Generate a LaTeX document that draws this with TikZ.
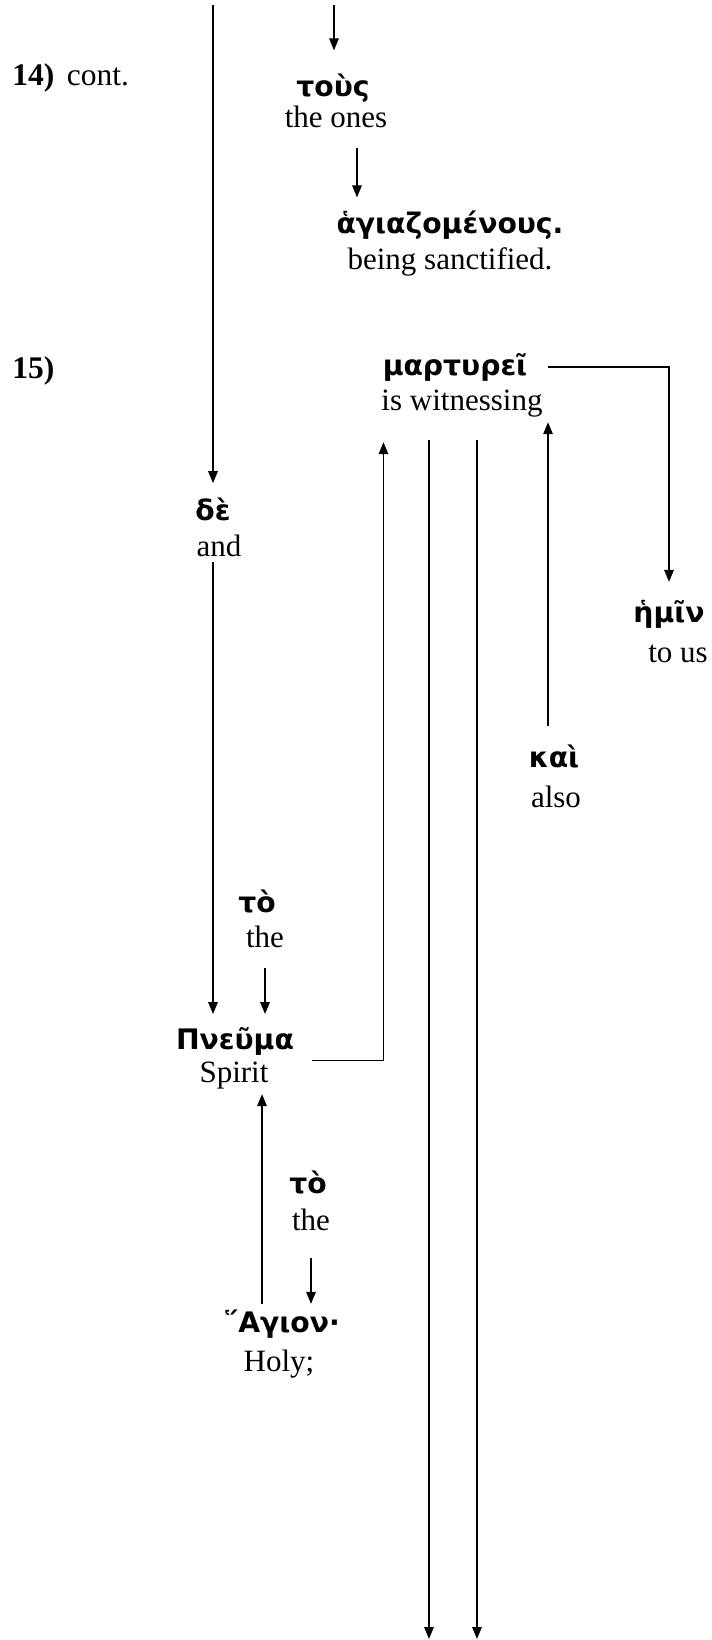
\documentclass[tikz,border=0pt]{standalone}
\usepackage{fontspec}
\setmainfont{Liberation Serif}
\newfontfamily\grk{DejaVu Sans}
\usetikzlibrary{arrows.meta,shapes}
\tikzstyle{greek}=[anchor=base,inner sep=2pt,font=\grk\bfseries\fontsize{11.3}{13}\selectfont]
\tikzstyle{gloss}=[anchor=base,inner sep=2pt,font=\fontsize{12.4}{15}\selectfont]
\tikzstyle{verse}=[anchor=base west,inner sep=0pt,font=\fontsize{12.6}{15}\selectfont]
\tikzstyle{edge} = [draw,line width=0.6pt,-{Triangle[length=4.8pt,width=3.8pt]}]

\begin{document}
\begin{tikzpicture}[x=0.4pt,y=-0.4pt]
    \useasboundingbox (0,0) rectangle (712,1640);

    \node[verse] (v14) at (12,85) {\textbf{14)}\hspace{5pt}cont.};
    \node[verse] (v15) at (12,378) {\textbf{15)}};

     \foreach \x/\y/\name/\word in {333/96/tous/τοὺς, 450/233/hagiaz/ἁγιαζομένους., 455/375/mart/μαρτυρεῖ, 213/520/de/δὲ, 669/622/hemin/ἡμῖν, 554/767/kai/καὶ, 257/912/toA/τὸ, 235/1049/pneuma/Πνεῦμα, 308/1193/toB/τὸ, 282/1332/hagion/῞Αγιον·}
        \node[greek] (\name) at (\x,\y) {\word};

     \foreach \x/\y/\name/\word in {336/127/gOnes/the ones, 450/269/gSanct/being sanctified., 462/410/gWit/is witnessing, 219/556/gAnd/and, 678/662/gUs/to us, 556/807/gAlso/also, 265/947/gTheA/the, 234/1082/gSpirit/Spirit, 311/1230/gTheB/the, 279/1371/gHoly/Holy;}
        \node[gloss] (\name) at (\x,\y) {\word};

    \coordinate (top1) at (213,5);
    \coordinate (top2) at (334,5);
    \coordinate (endA) at (429,1639);
    \coordinate (endB) at (477,1639);

    \path[edge, shorten >=3.5pt] (top1) -- (de.north);
    \path[edge, shorten >=7pt] (top2) -- (tous.north -| top2);
    \path[edge, shorten <=6pt, shorten >=3pt] (gOnes.south -| 357,0) -- (hagiaz.north -| 357,0);

    \path[edge, shorten >=5pt] (mart.east -| gWit.south east) -| (hemin.north);
    \path[edge, shorten <=5pt] (kai.north -| gWit.south east) -- (gWit.south east);

    \path[edge, shorten >=3pt] (gAnd.south -| de.south) -- (pneuma.north -| de.south);
    \path[edge, shorten <=6pt, shorten >=3pt] (gTheA.south) -- (pneuma.north -| gTheA.south);
    \path[edge] ([xshift=5pt]pneuma.south east) -| ([shift={(3pt,-8pt)}]gWit.south west);

    \path[edge, shorten <=9pt] (gTheB.south) -- (hagion.north -| gTheB.south);
    \path[edge] (hagion.north -| 262,0) -- (gSpirit.south -| 262,0);

    \path[edge, shorten <=7pt] (gWit.south -| endA) -- (endA);
    \path[edge, shorten <=7pt] (gWit.south -| endB) -- (endB);

\end{tikzpicture}
\end{document}
